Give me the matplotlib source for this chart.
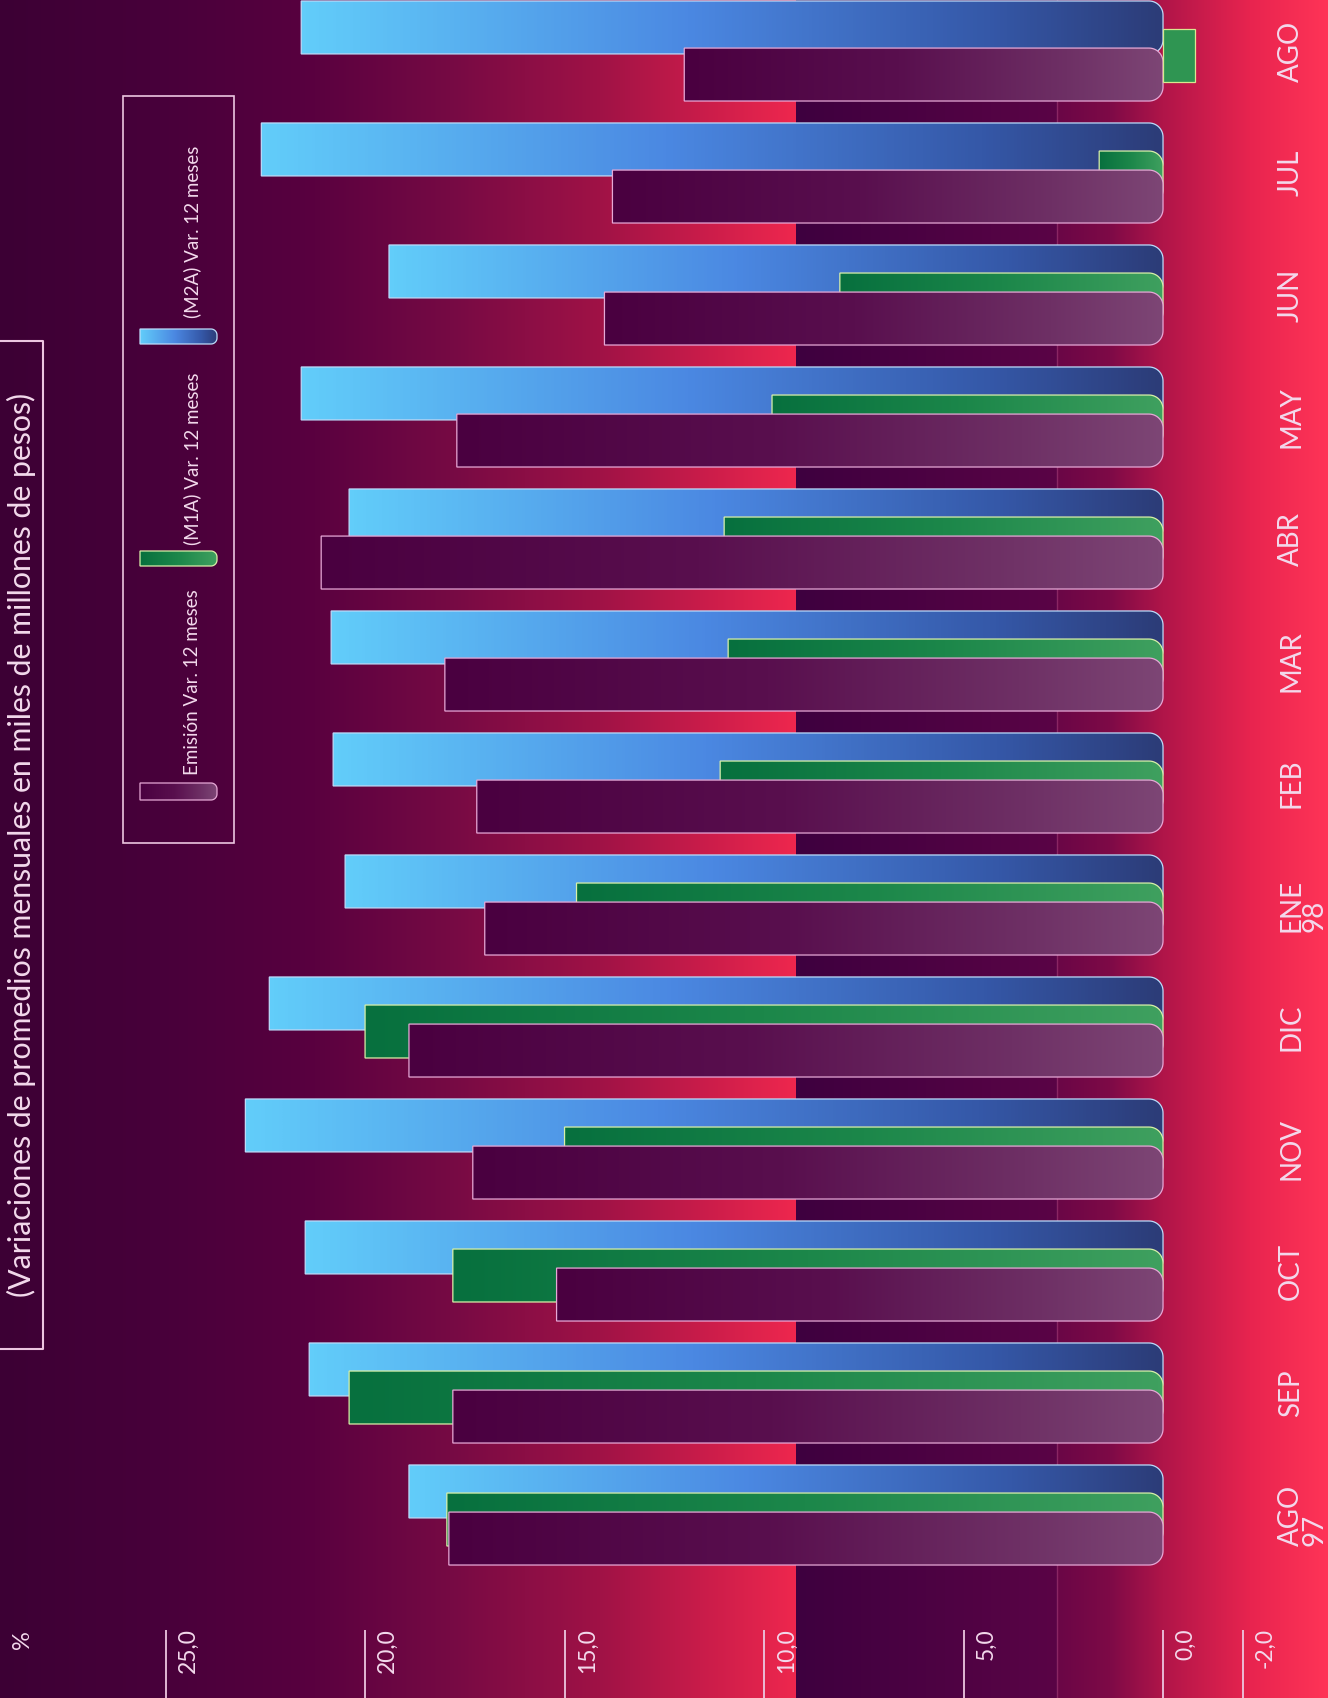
import numpy as np
import matplotlib
matplotlib.use("Agg")
import matplotlib.pyplot as plt
from matplotlib.colors import LinearSegmentedColormap, to_rgb
from matplotlib.path import Path
from matplotlib.patches import PathPatch, Rectangle
from matplotlib.transforms import offset_copy

plt.rcParams['font.family'] = ['Lato', 'DejaVu Sans']

# ---------------- data (variacion 12 meses, %) ----------------
months = ['AGO\n97', 'SEP', 'OCT', 'NOV', 'DIC', 'ENE\n98', 'FEB', 'MAR',
          'ABR', 'MAY', 'JUN', 'JUL', 'AGO']
emision = [17.9, 17.8, 15.2, 17.3, 18.9, 17.0, 17.2, 18.0, 21.1, 17.7, 14.0, 13.8, 12.0]
m1a = [17.95, 20.4, 17.8, 15.0, 20.0, 14.7, 11.1, 10.9, 11.0, 9.8, 8.1, 1.6, -0.8]
m2a = [18.9, 21.4, 21.5, 23.0, 22.4, 20.5, 20.8, 20.85, 20.4, 21.6, 19.4, 22.6, 21.6]

tick_vals = [25, 20, 15, 10, 5, 0, -2]
tick_labels = ['25,0', '20,0', '15,0', '10,0', '5,0', '0,0', '-2,0']
legend_labels = ['Emisión Var. 12 meses', '(M1A) Var. 12 meses', '(M2A) Var. 12 meses']
title = '(Variaciones de promedios mensuales en miles de millones de pesos)'

# ---------------- look ----------------
W, H = 1328, 1698
txt = '#f3d9ec'
line_col = '#ecc6e0'

blue_cmap = LinearSegmentedColormap.from_list(
    'blue', [(0, '#62cdfa'), (0.45, '#4b88e2'), (0.8, '#3558a8'), (1, '#2c3c78')])
green_cmap = LinearSegmentedColormap.from_list(
    'green', [(0, '#07703e'), (0.5, '#1c874a'), (1, '#3fa05f')])
purple_cmap = LinearSegmentedColormap.from_list(
    'purple', [(0, '#4a0040'), (0.45, '#590f4e'), (0.8, '#6e3065'), (1, '#7d4675')])

grad = np.linspace(0, 1, 256)[np.newaxis, :]


def bar_verts(tip, base, ya, yb, rx, ry, n=14):
    # outline of a bar whose base end has rounded corners
    d = np.sign(tip - base)
    t = np.linspace(0, np.pi / 2, n)
    sa = np.sign(ya - yb)
    arc_a = np.column_stack([base + d * rx * (1 - np.cos(t)), ya - sa * ry + sa * ry * np.sin(t)])
    arc_b = np.column_stack([base + d * rx * (1 - np.cos(t)), yb + sa * ry - sa * ry * np.sin(t)])
    return np.vstack([[[tip, ya]], arc_a[::-1], arc_b, [[tip, yb]], [[tip, ya]]])


def gradient_bar(axis, tip, base, ya, yb, rx, ry, cmap, edge, z):
    verts = bar_verts(tip, base, ya, yb, rx, ry)
    patch = PathPatch(Path(verts, closed=True), facecolor='none', edgecolor=edge,
                      lw=0.9, zorder=z + 0.1)
    axis.add_patch(patch)
    im = axis.imshow(grad, cmap=cmap, extent=(tip, base, min(ya, yb), max(ya, yb)),
                     aspect='auto', interpolation='bilinear', zorder=z)
    im.set_clip_path(patch)


fig = plt.figure(figsize=(W / 100, H / 100), dpi=100)

# ---------------- background ----------------
bg = fig.add_axes([0, 0, 1, 1])
bg.set_axis_off()
stop_x = [0, 150, 300, 450, 600, 700, 795, 796, 1056, 1057, 1110, 1163, 1250, 1328]
stop_c = ['#3c0034', '#47003a', '#57003f', '#760a44', '#a01246', '#c81c4a', '#ee274e',
          '#3e003f', '#5a0446', '#6a0646', '#7e0a47', '#b01549', '#e8244f', '#ff3457']
cols = np.arange(W)
rgb = np.array([np.interp(cols, stop_x, [to_rgb(c)[k] for c in stop_c]) for k in range(3)]).T
bg.imshow(rgb[np.newaxis, :, :], extent=(0, W, H, 0), aspect='auto', interpolation='nearest')
bg.axvline(1057, color='#ff9acb', alpha=0.22, lw=1)
bg.set_xlim(0, W)
bg.set_ylim(H, 0)

# ---------------- bars ----------------
ax = fig.add_axes([0, 0, 1, 1], facecolor='none')
ax.set_axis_off()
xlim = (29.15, -4.135)
ylim = (-1.5, 12.418)
px_x = W / (xlim[0] - xlim[1])
px_y = H / (ylim[1] - ylim[0])
rx, ry = 14 / px_x, 14 / px_y

h = 0.434
offsets = [0.193, -0.037, -0.193]
series = [(m2a, blue_cmap, '#bcdcfa', 2),
          (m1a, green_cmap, '#d8f0a8', 3),
          (emision, purple_cmap, '#e6a8d6', 4)]

for (vals, cmap, edge, z), off in zip(series, offsets):
    for i, v in enumerate(vals):
        yc = i + off
        y0, y1 = yc - h / 2, yc + h / 2
        if v > rx:
            gradient_bar(ax, v, 0, y1, y0, rx, ry, cmap, edge, z)
        else:
            ax.add_patch(Rectangle((0, y0), v, h, facecolor='#2f9552', edgecolor='#d8e890',
                                   lw=0.9, zorder=z + 3))

# value axis: short marks at the bottom edge with rotated labels
xtr = ax.get_xaxis_transform()
mark_top = 68 / H
ax.vlines(tick_vals, 0, mark_top, transform=xtr, color=line_col, lw=1.3)
lab_tr = offset_copy(xtr, fig=fig, x=12, y=0, units='dots')
for v, lab in zip(tick_vals, tick_labels):
    ax.text(v, mark_top + 0.001, lab, transform=lab_tr, rotation=90, ha='left', va='top',
            fontsize=16.5, color=txt)

# month labels at the right edge
ytr = ax.get_yaxis_transform()
for i, m in enumerate(months):
    ax.text(1278 / W, i, m, transform=ytr, rotation=90, ha='left', va='center',
            multialignment='left', linespacing=0.88, fontsize=20, color=txt)

ax.set_xlim(*xlim)
ax.set_ylim(*ylim)

# ---------------- title, legend ----------------
ov = fig.add_axes([0, 0, 1, 1], facecolor='none')
ov.set_axis_off()
ov.plot([-5, 43, 43, -5], [341, 341, 1349, 1349], color=line_col, lw=1.5, clip_on=False)
ov.text(21, 845, title, rotation=90, ha='center', va='center', fontsize=21.8, color=txt)
ov.text(22, 1630, '%', rotation=90, ha='center', va='top', fontsize=17, color=txt)

ov.add_patch(Rectangle((123, 96), 111, 747, fill=False, edgecolor=line_col, lw=1.2))
sw_y = [(783, 800), (551, 566), (329, 344)]
sw_cmaps = [purple_cmap, green_cmap, blue_cmap]
sw_edges = ['#e6a8d6', '#d8f0a8', '#bcdcfa']
text_y = [775, 545, 318]
for (ya, yb), cmap, edge, ty, lab in zip(sw_y, sw_cmaps, sw_edges, text_y, legend_labels):
    gradient_bar(ov, 140, 217, ya, yb, 6, 6, cmap, edge, 5)
    ov.text(192, ty, lab, rotation=90, ha='center', va='bottom', fontsize=13.5, color=txt)

ov.set_xlim(0, W)
ov.set_ylim(H, 0)

fig.savefig('out.png', dpi=100)
